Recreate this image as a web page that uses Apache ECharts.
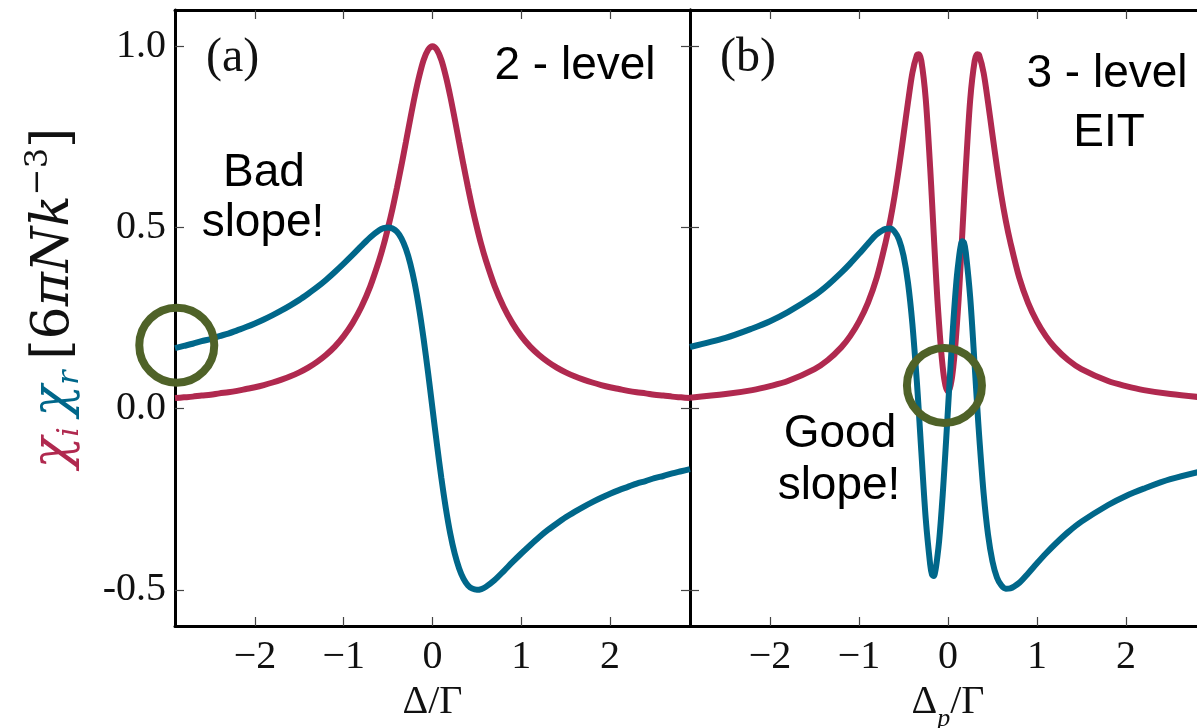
<!DOCTYPE html>
<html>
<head>
<meta charset="utf-8">
<script src="https://cdn.jsdelivr.net/npm/echarts@6/dist/echarts.min.js"></script>
<style>
html,body{margin:0;padding:0;background:#fff;}
#c{width:1197px;height:728px;}
</style>
</head>
<body>
<div id="c"></div>
<script>
// ---- Panel (a): 2-level ----
const xA = [-2.9,-2.8,-2.7,-2.6,-2.5,-2.4,-2.3,-2.2,-2.1,-2.0,-1.9,-1.8,-1.7,-1.6,-1.5,-1.4,-1.3,-1.2,-1.1,-1.0,-0.9,-0.8,-0.7,-0.6,-0.55,-0.5,-0.45,-0.4,-0.35,-0.3,-0.25,-0.2,-0.15,-0.1,-0.05,0,0.05,0.1,0.15,0.2,0.25,0.3,0.35,0.4,0.45,0.5,0.55,0.6,0.7,0.8,0.9,1.0,1.1,1.2,1.3,1.4,1.5,1.6,1.7,1.8,1.9,2.0,2.1,2.2,2.3,2.4,2.5,2.6,2.7,2.8,2.9];
const chiIA = [0.029,0.031,0.033,0.036,0.038,0.042,0.045,0.049,0.054,0.059,0.065,0.072,0.080,0.089,0.100,0.113,0.129,0.148,0.171,0.200,0.236,0.281,0.338,0.410,0.452,0.500,0.552,0.610,0.671,0.735,0.800,0.862,0.917,0.962,0.990,1.000,0.990,0.962,0.917,0.862,0.800,0.735,0.671,0.610,0.552,0.500,0.452,0.410,0.338,0.281,0.236,0.200,0.171,0.148,0.129,0.113,0.100,0.089,0.080,0.072,0.065,0.059,0.054,0.049,0.045,0.042,0.038,0.036,0.033,0.031,0.029];
const chiRA = [0.167,0.173,0.179,0.186,0.192,0.200,0.207,0.216,0.225,0.235,0.246,0.258,0.271,0.285,0.300,0.317,0.335,0.355,0.377,0.400,0.424,0.449,0.473,0.492,0.498,0.500,0.497,0.488,0.470,0.441,0.400,0.345,0.275,0.192,0.099,0,-0.099,-0.192,-0.275,-0.345,-0.400,-0.441,-0.470,-0.488,-0.497,-0.500,-0.498,-0.492,-0.473,-0.449,-0.424,-0.400,-0.377,-0.355,-0.335,-0.317,-0.300,-0.285,-0.271,-0.258,-0.246,-0.235,-0.225,-0.216,-0.207,-0.200,-0.192,-0.186,-0.179,-0.173,-0.167];

// ---- Panel (b): 3-level EIT ----
const xB = [-2.9,-2.5,-2.2,-2.0,-1.8,-1.5,-1.35,-1.2,-1.1,-1.0,-0.9,-0.8,-0.7,-0.65,-0.6,-0.55,-0.5,-0.45,-0.4,-0.35,-0.33,-0.3,-0.25,-0.2,-0.18,-0.16,-0.14,-0.12,-0.1,-0.08,-0.06,-0.04,-0.02,0,0.02,0.04,0.06,0.08,0.1,0.12,0.14,0.16,0.18,0.2,0.25,0.3,0.33,0.35,0.4,0.45,0.5,0.55,0.6,0.65,0.7,0.8,0.9,1.0,1.1,1.2,1.35,1.5,1.8,2.0,2.2,2.5,2.9];
const chiIB = [0.030,0.040,0.051,0.062,0.076,0.109,0.134,0.169,0.200,0.240,0.292,0.362,0.460,0.518,0.587,0.667,0.755,0.845,0.927,0.975,0.978,0.960,0.854,0.663,0.573,0.480,0.389,0.304,0.232,0.167,0.116,0.078,0.056,0.048,0.056,0.078,0.116,0.167,0.232,0.304,0.389,0.480,0.573,0.663,0.854,0.960,0.978,0.975,0.927,0.845,0.755,0.667,0.587,0.518,0.460,0.362,0.292,0.240,0.200,0.169,0.134,0.109,0.076,0.062,0.051,0.040,0.030];
const chiRB = [0.170,0.195,0.221,0.241,0.266,0.312,0.341,0.375,0.400,0.427,0.455,0.481,0.496,0.497,0.488,0.466,0.422,0.348,0.233,0.074,0.000,-0.118,-0.305,-0.431,-0.458,-0.462,-0.445,-0.410,-0.366,-0.307,-0.239,-0.163,-0.083,0,0.083,0.163,0.239,0.307,0.366,0.410,0.445,0.462,0.458,0.431,0.305,0.118,0.000,-0.074,-0.233,-0.348,-0.422,-0.466,-0.488,-0.497,-0.496,-0.481,-0.455,-0.427,-0.400,-0.375,-0.341,-0.312,-0.266,-0.241,-0.221,-0.195,-0.170];

// ---- Highlight circles ----
const circleA = [[-2.88, 0.175]];
const circleB = [[-0.04, 0.064]];

// ---- Axis ticks ----
const xTicks = [-2, -1, 0, 1, 2];
const yTicks = [-0.5, 0, 0.5, 1.0];
const xRange = [-2.9, 2.9];
const yRange = [-0.6, 1.1];

const RED = '#B0294F';
const BLUE = '#00678A';
const GREEN = '#4F6228';
const SERIF = '"Liberation Serif", "DejaVu Serif", serif';
const DSERIF = '"DejaVu Serif", "Liberation Serif", serif';
const SANS = '"Liberation Sans", Arial, sans-serif';

const zip = (xs, ys) => xs.map((x, i) => [x, ys[i]]);

const chart = echarts.init(document.getElementById('c'));

function xAxisDef(grid, pos, withLabels, name) {
  return {
    type: 'value', gridIndex: grid, position: pos,
    min: xRange[0], max: xRange[1],
    axisLine: {show: true, onZero: false, lineStyle: {color: '#000', width: 3}},
    axisTick: {show: true, inside: true, length: 9, customValues: xTicks, lineStyle: {color: '#444', width: 1.2}},
    axisLabel: {show: withLabels, customValues: xTicks, margin: 11, fontFamily: SERIF, fontSize: 40, color: '#111',
      formatter: v => (v < 0 ? '\u2212' + Math.abs(v) : String(v))},
    splitLine: {show: false},
    name: name || '', nameLocation: 'middle', nameGap: 56,
    nameTextStyle: name ? {fontFamily: SERIF, fontSize: 40, color: '#111', verticalAlign: 'top', lineHeight: 40,
      rich: {t: {fontFamily: SERIF, fontSize: 40, color: '#111', lineHeight: 40},
             p: {fontFamily: SERIF, fontStyle: 'italic', fontSize: 26, color: '#111', verticalAlign: 'bottom', lineHeight: 26, padding: [0, 0, -10, 0]}}} : undefined
  };
}
function yAxisDef(grid, pos, withLabels) {
  return {
    type: 'value', gridIndex: grid, position: pos,
    min: yRange[0], max: yRange[1],
    axisLine: {show: true, onZero: false, lineStyle: {color: '#000', width: 3}},
    axisTick: {show: true, inside: true, length: 9, customValues: yTicks, lineStyle: {color: '#444', width: 1.2}},
    axisLabel: {show: withLabels, customValues: yTicks, margin: 9, fontFamily: SERIF, fontSize: 40, color: '#111',
      formatter: v => v.toFixed(1)},
    splitLine: {show: false}
  };
}

const option = {
  animation: false,
  backgroundColor: '#fff',
  grid: [
    {left: 175, top: 10, width: 515, height: 616, containLabel: false, outerBoundsMode: 'none'},
    {left: 690, top: 10, width: 516, height: 616, containLabel: false, outerBoundsMode: 'none'}
  ],
  xAxis: [
    xAxisDef(0, 'bottom', true, '{t|\u0394/\u0393}'),
    xAxisDef(0, 'top', false),
    xAxisDef(1, 'bottom', true, '{t|\u0394}{p|p}{t|/\u0393}'),
    xAxisDef(1, 'top', false)
  ],
  yAxis: [
    yAxisDef(0, 'left', true),
    yAxisDef(0, 'right', false),
    yAxisDef(1, 'left', false),
    yAxisDef(1, 'right', false)
  ],
  series: [
    {type: 'line', xAxisIndex: 0, yAxisIndex: 0, data: zip(xA, chiIA), smooth: 0.3, showSymbol: false, silent: true,
      lineStyle: {color: RED, width: 6}, z: 2},
    {type: 'line', xAxisIndex: 0, yAxisIndex: 0, data: zip(xA, chiRA), smooth: 0.3, showSymbol: false, silent: true,
      lineStyle: {color: BLUE, width: 6}, z: 3},
    {type: 'line', xAxisIndex: 2, yAxisIndex: 2, data: zip(xB, chiIB), smooth: 0.3, showSymbol: false, silent: true,
      lineStyle: {color: RED, width: 6}, z: 2},
    {type: 'line', xAxisIndex: 2, yAxisIndex: 2, data: zip(xB, chiRB), smooth: 0.3, showSymbol: false, silent: true,
      lineStyle: {color: BLUE, width: 6}, z: 3},
    {type: 'scatter', xAxisIndex: 0, yAxisIndex: 0, data: circleA, symbol: 'circle', symbolSize: 75, silent: true, clip: false,
      itemStyle: {color: 'rgba(0,0,0,0)', borderColor: GREEN, borderWidth: 8, opacity: 1}, z: 5},
    {type: 'scatter', xAxisIndex: 2, yAxisIndex: 2, data: circleB, symbol: 'circle', symbolSize: 75, silent: true, clip: false,
      itemStyle: {color: 'rgba(0,0,0,0)', borderColor: GREEN, borderWidth: 8, opacity: 1}, z: 5}
  ],
  graphic: [
    {type: 'text', x: 206, y: 58, silent: true, style: {text: '(a)', font: '48px ' + SERIF, fill: '#111', align: 'left', verticalAlign: 'middle'}},
    {type: 'text', x: 720, y: 58, silent: true, style: {text: '(b)', font: '48px ' + SERIF, fill: '#111', align: 'left', verticalAlign: 'middle'}},
    {type: 'text', x: 575, y: 66, silent: true, style: {text: '2 - level', font: '46px ' + SANS, fill: '#000', align: 'center', verticalAlign: 'middle'}},
    {type: 'text', x: 1107, y: 74, silent: true, style: {text: '3 - level', font: '46px ' + SANS, fill: '#000', align: 'center', verticalAlign: 'middle'}},
    {type: 'text', x: 1109, y: 133, silent: true, style: {text: 'EIT', font: '46px ' + SANS, fill: '#000', align: 'center', verticalAlign: 'middle'}},
    {type: 'text', x: 264, y: 173, silent: true, style: {text: 'Bad', font: '46px ' + SANS, fill: '#000', align: 'center', verticalAlign: 'middle'}},
    {type: 'text', x: 263, y: 223, silent: true, style: {text: 'slope!', font: '46px ' + SANS, fill: '#000', align: 'center', verticalAlign: 'middle'}},
    {type: 'text', x: 840, y: 434, silent: true, style: {text: 'Good', font: '46px ' + SANS, fill: '#000', align: 'center', verticalAlign: 'middle'}},
    {type: 'text', x: 839, y: 486, silent: true, style: {text: 'slope!', font: '46px ' + SANS, fill: '#000', align: 'center', verticalAlign: 'middle'}},
    {type: 'text', x: 54, y: 298, rotation: Math.PI / 2, silent: true,
      style: {
        text: '{ci|\u03C7}{si|i}{sp| }{cr|\u03C7}{sr|r}{sp| }{t|[6}{it|\u03C0Nk}{sup|\u22123}{t|]}',
        align: 'center', verticalAlign: 'middle',
        rich: {
          ci: {fontFamily: DSERIF, fontStyle: 'italic', fontSize: 52, fill: RED, lineHeight: 62},
          si: {fontFamily: DSERIF, fontStyle: 'italic', fontSize: 30, fill: RED, verticalAlign: 'bottom', lineHeight: 30},
          cr: {fontFamily: DSERIF, fontStyle: 'italic', fontSize: 52, fill: BLUE, lineHeight: 62},
          sr: {fontFamily: DSERIF, fontStyle: 'italic', fontSize: 30, fill: BLUE, verticalAlign: 'bottom', lineHeight: 30},
          sp: {fontFamily: DSERIF, fontSize: 34, lineHeight: 62},
          t: {fontFamily: DSERIF, fontSize: 52, fill: '#111', lineHeight: 62},
          it: {fontFamily: DSERIF, fontStyle: 'italic', fontSize: 52, fill: '#111', lineHeight: 62},
          sup: {fontFamily: DSERIF, fontSize: 32, fill: '#111', verticalAlign: 'top', lineHeight: 32}
        }
      }}
  ]
};
chart.setOption(option);
</script>
</body>
</html>
